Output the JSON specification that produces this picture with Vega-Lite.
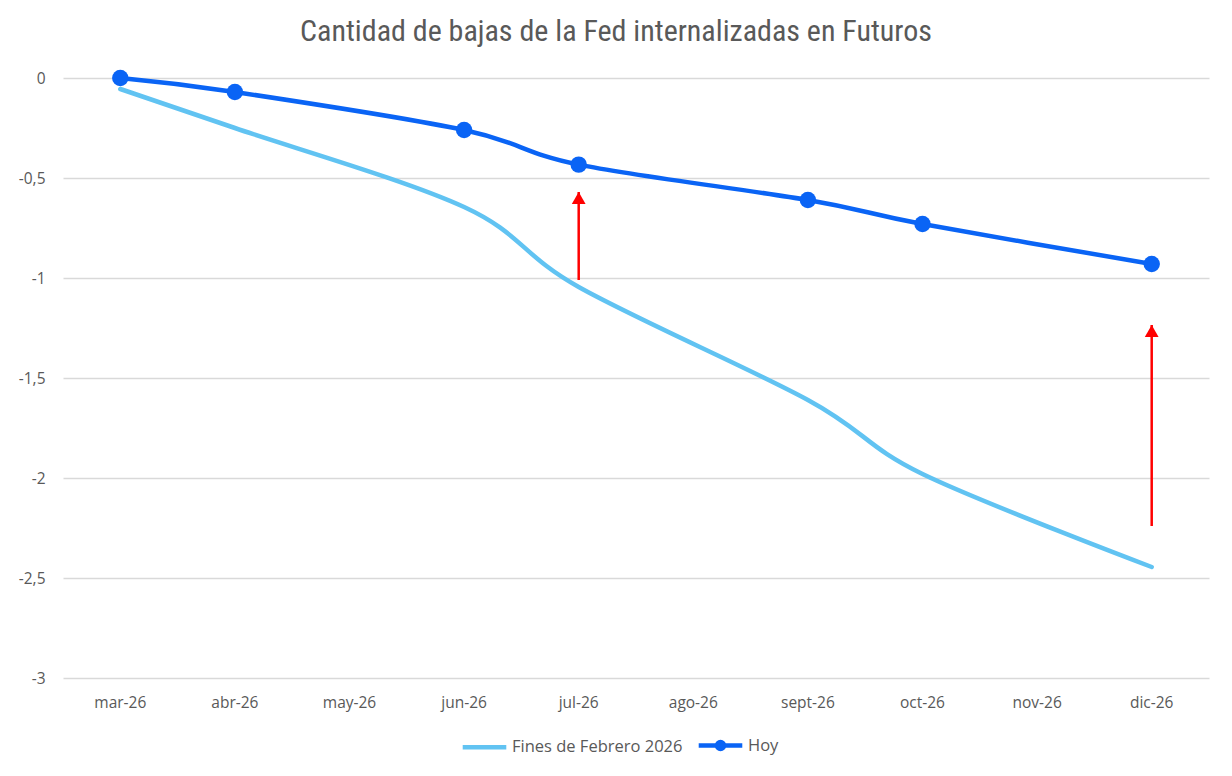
{
  "$schema": "https://vega.github.io/schema/vega-lite/v6.json",
  "width": 1146,
  "height": 600,
  "autosize": {"type": "none"},
  "padding": {"left": 63, "top": 78, "right": 23, "bottom": 98},
  "background": "white",
  "title": {
    "text": "Cantidad de bajas de la Fed internalizadas en Futuros",
    "font": "Liberation Sans Narrow, Roboto Condensed, Roboto, sans-serif",
    "fontSize": 30,
    "fontWeight": "normal",
    "color": "#595959",
    "anchor": "middle",
    "dx": -20,
    "offset": 22
  },
  "config": {
    "view": {"stroke": null},
    "axis": {
      "labelFont": "Open Sans",
      "labelFontSize": 15.5,
      "labelColor": "#595959",
      "domain": false,
      "ticks": false,
      "title": null
    },
    "legend": {
      "labelFont": "Open Sans",
      "labelFontSize": 16.5,
      "labelColor": "#595959",
      "labelLimit": 400
    }
  },
  "datasets": {
    "series": [
      {"mes": "mar-26", "serie": "Fines de Febrero 2026", "valor": -0.055},
      {"mes": "abr-26", "serie": "Fines de Febrero 2026", "valor": -0.25},
      {"mes": "jun-26", "serie": "Fines de Febrero 2026", "valor": -0.645},
      {"mes": "jul-26", "serie": "Fines de Febrero 2026", "valor": -1.045},
      {"mes": "sept-26", "serie": "Fines de Febrero 2026", "valor": -1.61},
      {"mes": "oct-26", "serie": "Fines de Febrero 2026", "valor": -1.98},
      {"mes": "dic-26", "serie": "Fines de Febrero 2026", "valor": -2.445},
      {"mes": "mar-26", "serie": "Hoy", "valor": 0},
      {"mes": "abr-26", "serie": "Hoy", "valor": -0.07},
      {"mes": "jun-26", "serie": "Hoy", "valor": -0.26},
      {"mes": "jul-26", "serie": "Hoy", "valor": -0.433},
      {"mes": "sept-26", "serie": "Hoy", "valor": -0.61},
      {"mes": "oct-26", "serie": "Hoy", "valor": -0.73},
      {"mes": "dic-26", "serie": "Hoy", "valor": -0.93}
    ],
    "flechas": [
      {"mes": "jul-26", "desde": -1.01, "hasta": -0.57},
      {"mes": "dic-26", "desde": -2.24, "hasta": -1.235}
    ]
  },
  "encoding": {
    "x": {
      "field": "mes",
      "type": "ordinal",
      "sort": ["mar-26", "abr-26", "may-26", "jun-26", "jul-26", "ago-26", "sept-26", "oct-26", "nov-26", "dic-26"],
      "scale": {
        "domain": ["mar-26", "abr-26", "may-26", "jun-26", "jul-26", "ago-26", "sept-26", "oct-26", "nov-26", "dic-26"],
        "paddingInner": 0,
        "paddingOuter": 0
      },
      "axis": {"labelAngle": 0, "grid": false, "labelPadding": 17}
    }
  },
  "layer": [
    {
      "data": {"name": "series"},
      "mark": {"type": "line", "interpolate": "cardinal", "strokeWidth": 4.5, "strokeCap": "round"},
      "encoding": {
        "y": {
          "field": "valor",
          "type": "quantitative",
          "scale": {"domain": [-3, 0], "nice": false},
          "axis": {
            "values": [-3, -2.5, -2, -1.5, -1, -0.5, 0],
            "grid": true,
            "gridColor": "#D9D9D9",
            "gridWidth": 1.3,
            "labelPadding": 18,
            "labelExpr": "replace(toString(datum.value), '.', ',')"
          }
        },
        "color": {
          "field": "serie",
          "type": "nominal",
          "scale": {"domain": ["Fines de Febrero 2026", "Hoy"], "range": ["#61C3F2", "#0A64F5"]},
          "legend": {
            "title": null,
            "orient": "none",
            "direction": "horizontal",
            "legendX": 397,
            "legendY": 643,
            "symbolType": "stroke",
            "symbolSize": 1900,
            "symbolStrokeWidth": 4.5,
            "columnPadding": 6,
            "labelOffset": 3,
            "encode": {
              "symbols": {
                "update": {
                  "shape": {"signal": "datum.value === 'Hoy' ? 'M-1,0L1,0M-0.16,0A0.16,0.16 0 1,0 0.16,0A0.16,0.16 0 1,0 -0.16,0Z' : 'stroke'"},
                  "fill": {"signal": "datum.value === 'Hoy' ? '#0A64F5' : 'transparent'"}
                }
              }
            }
          }
        }
      }
    },
    {
      "data": {"name": "series"},
      "transform": [{"filter": "datum.serie === 'Hoy'"}],
      "mark": {"type": "point", "filled": true, "size": 270, "opacity": 1, "color": "#0A64F5"},
      "encoding": {
        "y": {"field": "valor", "type": "quantitative"}
      }
    },
    {
      "data": {"name": "flechas"},
      "mark": {"type": "rule", "color": "#FF0000", "strokeWidth": 2.5},
      "encoding": {
        "y": {"field": "desde", "type": "quantitative"},
        "y2": {"field": "hasta"}
      }
    },
    {
      "data": {"name": "flechas"},
      "mark": {"type": "point", "shape": "triangle-up", "filled": true, "size": 190, "opacity": 1, "color": "#FF0000", "yOffset": 6},
      "encoding": {
        "y": {"field": "hasta", "type": "quantitative"}
      }
    }
  ]
}
